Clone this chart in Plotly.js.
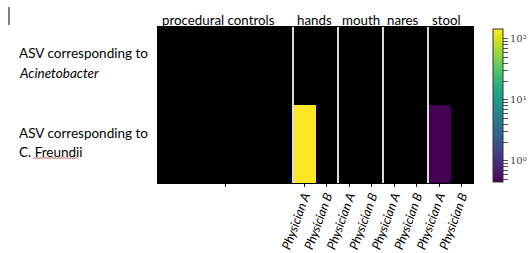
<!DOCTYPE html>
<html>
<head>
<meta charset="utf-8">
<script src="https://cdn.plot.ly/plotly-3.0.1.min.js"></script>
<style>html,body{margin:0;padding:0;background:#fff;}#chart{width:529px;height:253px;}</style>
</head>
<body>
<div id="chart"></div>
<script>
// ---- data ----
const groups = ['procedural controls', 'hands', 'mouth', 'nares', 'stool'];
const groupStarts = [0, 6, 8, 10, 12];           // first column index of each group
const columnLabels = ['', '', '', '', '', '',
  'Physician A', 'Physician B', 'Physician A', 'Physician B',
  'Physician A', 'Physician B', 'Physician A', 'Physician B'];
const rowLabelsLine1 = ['ASV corresponding to', 'ASV corresponding to'];
const rowLabelsLine2 = ['<i>Acinetobacter</i>', 'C. Freundii'];
const acinetobacter = [0, 0, 0, 0, 0, 0, 0, 0, 0, 0, 0, 0, 0, 0];
const freundii      = [0, 0, 0, 0, 0, 0, 145, 0, 0, 0, 0, 0, 0.45, 0];
const cbMajor = [1, 10, 100];
const cbMajorText = ['10⁰', '10¹', '10²'];
const cbMinor = [0.5, 0.6, 0.7, 0.8, 0.9, 2, 3, 4, 5, 6, 7, 8, 9, 20, 30, 40, 50, 60, 70, 80, 90];

// ---- build ----
const nCols = columnLabels.length;
const xs = columnLabels.map((_, i) => i);
const toZ = v => (v > 0 ? Math.log10(v) : null);
const z = [acinetobacter.map(toZ), freundii.map(toZ)];

const tickvals = [2.5].concat(xs.slice(6));
const ticktext = [''].concat(columnLabels.slice(6).map(t => '<i>' + t + '</i>'));

const cbVals = cbMajor.concat(cbMinor).map(v => Math.log10(v));
const cbText = cbMajorText.concat(cbMinor.map(() => ''));

const trace = {
  type: 'heatmap',
  x: xs, y: [0, 1], z: z,
  colorscale: 'Viridis',
  hoverongaps: false,
  colorbar: {
    x: 1.0635, xanchor: 'left', xpad: 0,
    y: 0.497, yanchor: 'middle', ypad: 0,
    len: 153, lenmode: 'pixels',
    thickness: 10, thicknessmode: 'pixels',
    outlinewidth: 1, outlinecolor: '#333',
    tickmode: 'array', tickvals: cbVals, ticktext: cbText,
    ticks: 'outside', ticklen: 5, tickcolor: '#555', tickwidth: 1,
    tickfont: {family: 'DejaVu Serif', size: 10, color: '#444'}
  }
};

const font = 'Lato, "Open Sans", sans-serif';
const PW = 315, PH = 156, L = 158, T = 27;
const px2x = p => (p - L) / PW;
const py2y = p => (T + PH - p) / PH;

const shapes = [];
groupStarts.slice(1).forEach(s => shapes.push({
  type: 'line', xref: 'x', yref: 'paper', x0: s - 0.5, x1: s - 0.5, y0: 0, y1: 1,
  line: {color: '#dcdcdc', width: 2}
}));
// text cursor mark at top-left
shapes.push({type: 'line', xref: 'paper', yref: 'paper',
  x0: px2x(9), x1: px2x(9), y0: py2y(7), y1: py2y(25), line: {color: '#555', width: 1.5}});
// spell-check squiggle under "Freundii"
let path = '';
for (let p = 33, k = 0; p <= 78; p += 1.5, k++) {
  const yy = 158 + (k % 2 === 0 ? 0.8 : -0.8);
  path += (k === 0 ? 'M' : 'L') + px2x(p) + ',' + py2y(yy) + ' ';
}
shapes.push({type: 'path', xref: 'paper', yref: 'paper', path: path, line: {color: '#e03030', width: 0.8}});

const annotations = [];
groups.forEach((g, i) => annotations.push({
  text: g, xref: 'x', yref: 'paper', x: groupStarts[i] - 0.5, y: 1,
  xanchor: 'left', yanchor: 'bottom', xshift: 2, yshift: -3, showarrow: false,
  font: {family: font, size: 13.3, color: '#000'}
}));
const lineShift = [[13, -7], [11, -8]];
[0, 1].forEach(r => {
  annotations.push({text: rowLabelsLine1[r], xref: 'paper', yref: 'y', x: px2x(17), y: r,
    xanchor: 'left', yanchor: 'middle', yshift: lineShift[r][0], showarrow: false,
    font: {family: font, size: 13.5, color: '#000'}});
  annotations.push({text: rowLabelsLine2[r], xref: 'paper', yref: 'y', x: px2x(17), y: r,
    xanchor: 'left', yanchor: 'middle', yshift: lineShift[r][1], showarrow: false,
    font: {family: font, size: 13.5, color: '#000'}});
});

const layout = {
  width: 529, height: 253,
  margin: {l: L, r: 529 - L - PW, t: T, b: 253 - T - PH, pad: 0, autoexpand: false},
  paper_bgcolor: '#fff', plot_bgcolor: '#000',
  xaxis: {
    range: [-0.5, nCols - 0.5], tickmode: 'array', tickvals: tickvals, ticktext: ticktext,
    tickangle: -70, ticks: 'outside', ticklen: 3, tickcolor: '#000',
    ticklabelstandoff: -3,
    tickfont: {family: font, size: 12.5, color: '#000'},
    showgrid: false, zeroline: false, showline: true, linecolor: '#000', mirror: true
  },
  yaxis: {
    range: [1.5, -0.5], showticklabels: false, ticks: '', showgrid: false, zeroline: false,
    showline: true, linecolor: '#000', mirror: true
  },
  shapes: shapes,
  annotations: annotations,
  showlegend: false
};

Plotly.newPlot('chart', [trace], layout, {displayModeBar: false, staticPlot: true});
</script>
</body>
</html>
